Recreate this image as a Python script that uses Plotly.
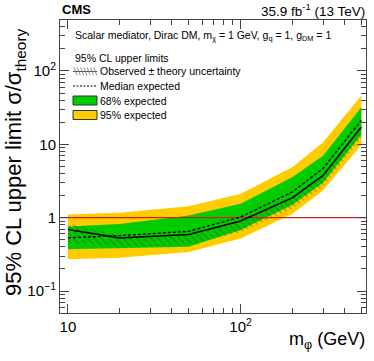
import plotly.graph_objects as go

# Mediator masses (GeV)
mass = [10, 20, 50, 100, 200, 300, 500]

# 95% CL upper limits on sigma/sigma_theory
observed = [0.69, 0.53, 0.59, 0.90, 1.87, 3.76, 17.2]
obs_theory_up = [0.85, 0.56, 0.61, 0.92, 1.90, 3.80, 17.5]
obs_theory_dn = [0.45, 0.39, 0.43, 0.63, 1.33, 2.62, 12.2]
expected = [0.53, 0.57, 0.65, 1.02, 2.25, 4.7, 21.3]
exp_68_up = [0.76, 0.82, 1.07, 1.55, 3.57, 7.0, 32]
exp_68_dn = [0.37, 0.38, 0.40, 0.68, 1.50, 3.0, 13.5]
exp_95_up = [1.10, 1.17, 1.43, 2.12, 4.9, 10.7, 46]
exp_95_dn = [0.27, 0.285, 0.34, 0.52, 1.13, 2.35, 9.8]

# sigma/sigma_theory = 1 reference
unity = 1

x_ticks = [10, 100]
x_ticktext = ["10", "10<sup>2</sup>"]
y_ticks = [0.1, 1, 10, 100]
y_ticktext = ["10<sup>\u22121</sup>", "1", "10", "10<sup>2</sup>"]

YELLOW = "#FFCC00"
GREEN = "#00CC00"
FONT = "Liberation Sans, Arial, sans-serif"

W, H = 374, 361
L, R, T, B = 60, 8, 20, 48
pw, ph = W - L - R, H - T - B
X_RANGE = [0.954, 2.726]


def px(x):
    return (x - L) / pw


def py(y):
    return (H - B - y) / ph


fig = go.Figure()

# 95% band
fig.add_trace(go.Scatter(x=mass, y=exp_95_dn, mode="lines", line=dict(width=0), hoverinfo="skip"))
fig.add_trace(go.Scatter(x=mass, y=exp_95_up, mode="lines", line=dict(width=0), fill="tonexty",
                         fillcolor=YELLOW))
# 68% band
fig.add_trace(go.Scatter(x=mass, y=exp_68_dn, mode="lines", line=dict(width=0), hoverinfo="skip"))
fig.add_trace(go.Scatter(x=mass, y=exp_68_up, mode="lines", line=dict(width=0), fill="tonexty",
                         fillcolor=GREEN))
# observed theory uncertainty (hatched)
fig.add_trace(go.Scatter(x=mass, y=obs_theory_dn, mode="lines", line=dict(width=0), hoverinfo="skip"))
fig.add_trace(go.Scatter(x=mass, y=obs_theory_up, mode="lines", line=dict(width=0), fill="tonexty",
                         fillcolor="rgba(0,0,0,0)",
                         fillpattern=dict(shape="\\", fgcolor="rgba(70,60,40,0.7)", bgcolor="rgba(0,0,0,0)",
                                          size=5, solidity=0.3)))
# unity line
fig.add_trace(go.Scatter(x=[10 ** X_RANGE[0], 10 ** X_RANGE[1]], y=[unity, unity], mode="lines",
                         line=dict(color="#D42020", width=1.2), hoverinfo="skip"))
# median expected
fig.add_trace(go.Scatter(x=mass, y=expected, mode="lines", line=dict(color="black", width=1.3, dash="3px,2px")))
# observed
fig.add_trace(go.Scatter(x=mass, y=observed, mode="lines", line=dict(color="black", width=1.5)))

shapes = []

# legend symbols
lx0, lx1 = px(73), px(97)
shapes.append(dict(type="line", xref="paper", yref="paper", x0=lx0, x1=lx1, y0=py(71.5), y1=py(71.5),
                   line=dict(color="#555", width=1)))
for i in range(7):
    xa = 74 + i * 3.3
    shapes.append(dict(type="line", xref="paper", yref="paper", x0=px(xa), x1=px(xa + 3), y0=py(67.5),
                       y1=py(75.5), line=dict(color="#777", width=0.8)))
shapes.append(dict(type="line", xref="paper", yref="paper", x0=lx0, x1=lx1, y0=py(86), y1=py(86),
                   line=dict(color="black", width=1, dash="2px,1.5px")))
shapes.append(dict(type="rect", xref="paper", yref="paper", x0=lx0, x1=lx1, y0=py(96), y1=py(105),
                   fillcolor=GREEN, line=dict(color="#333", width=1)))
shapes.append(dict(type="rect", xref="paper", yref="paper", x0=lx0, x1=lx1, y0=py(110.5), y1=py(119.5),
                   fillcolor=YELLOW, line=dict(color="#333", width=1)))

annotations = [
    dict(text="<b>CMS</b>", x=px(60), y=py(10), xanchor="left", yanchor="middle", font=dict(size=13)),
    dict(text="35.9 fb<sup>-1</sup> (13 TeV)", x=px(367), y=py(10), xanchor="right", yanchor="middle",
         font=dict(size=13.5)),
    dict(text="Scalar mediator, Dirac DM, m<sub>\u03c7</sub> = 1 GeV, g<sub>q</sub> = 1, g<sub>DM</sub> = 1",
         x=px(73), y=py(36), xanchor="left", yanchor="middle", font=dict(size=10.5)),
    dict(text="95% CL upper limits", x=px(73), y=py(57.5), xanchor="left", yanchor="middle", font=dict(size=10.5)),
    dict(text="Observed \u00b1 theory uncertainty", x=px(98), y=py(71.5), xanchor="left", yanchor="middle",
         font=dict(size=10.5)),
    dict(text="Median expected", x=px(98), y=py(86), xanchor="left", yanchor="middle", font=dict(size=10.5)),
    dict(text="68% expected", x=px(98), y=py(100.5), xanchor="left", yanchor="middle", font=dict(size=10.5)),
    dict(text="95% expected", x=px(98), y=py(115), xanchor="left", yanchor="middle", font=dict(size=10.5)),
    dict(text="95% CL upper limit \u03c3/\u03c3<sub>theory</sub>", textangle=-90, x=px(15), y=py(26),
         xanchor="center", yanchor="top", font=dict(size=22)),
    dict(text="m<sub>\u03c6</sub> (GeV)", x=px(367), y=py(354), xanchor="right", yanchor="bottom",
         font=dict(size=18)),
]
for a in annotations:
    a.update(xref="paper", yref="paper", showarrow=False)

fig.update_layout(
    width=W, height=H,
    margin=dict(l=L, r=R, t=T, b=B),
    paper_bgcolor="white", plot_bgcolor="white",
    font=dict(family=FONT, color="black"),
    showlegend=False,
    shapes=shapes,
    annotations=annotations,
)
fig.update_xaxes(
    type="log", range=X_RANGE,
    tickvals=x_ticks, ticktext=x_ticktext, tickfont=dict(size=15),
    ticks="inside", ticklen=9, tickcolor="#444",
    minor=dict(ticks="inside", ticklen=5, tickcolor="#444",
               tickvals=[9, 20, 30, 40, 50, 60, 70, 80, 90, 200, 300, 400, 500]),
    showline=True, linecolor="#444", linewidth=1, mirror="ticks",
    showgrid=False, zeroline=False,
)
fig.update_yaxes(
    type="log", range=[-1.3, 2.695],
    tickvals=y_ticks, ticktext=y_ticktext, tickfont=dict(size=15),
    ticks="inside", ticklen=9, tickcolor="#444",
    minor=dict(ticks="inside", ticklen=5, tickcolor="#444",
               tickvals=[0.05, 0.06, 0.07, 0.08, 0.09, 0.2, 0.3, 0.4, 0.5, 0.6, 0.7, 0.8, 0.9,
                         2, 3, 4, 5, 6, 7, 8, 9, 20, 30, 40, 50, 60, 70, 80, 90, 200, 300, 400]),
    showline=True, linecolor="#444", linewidth=1, mirror="ticks",
    showgrid=False, zeroline=False,
)

fig.write_html("out.html", config={"displayModeBar": False},
               post_script="document.body.style.margin='0';")
